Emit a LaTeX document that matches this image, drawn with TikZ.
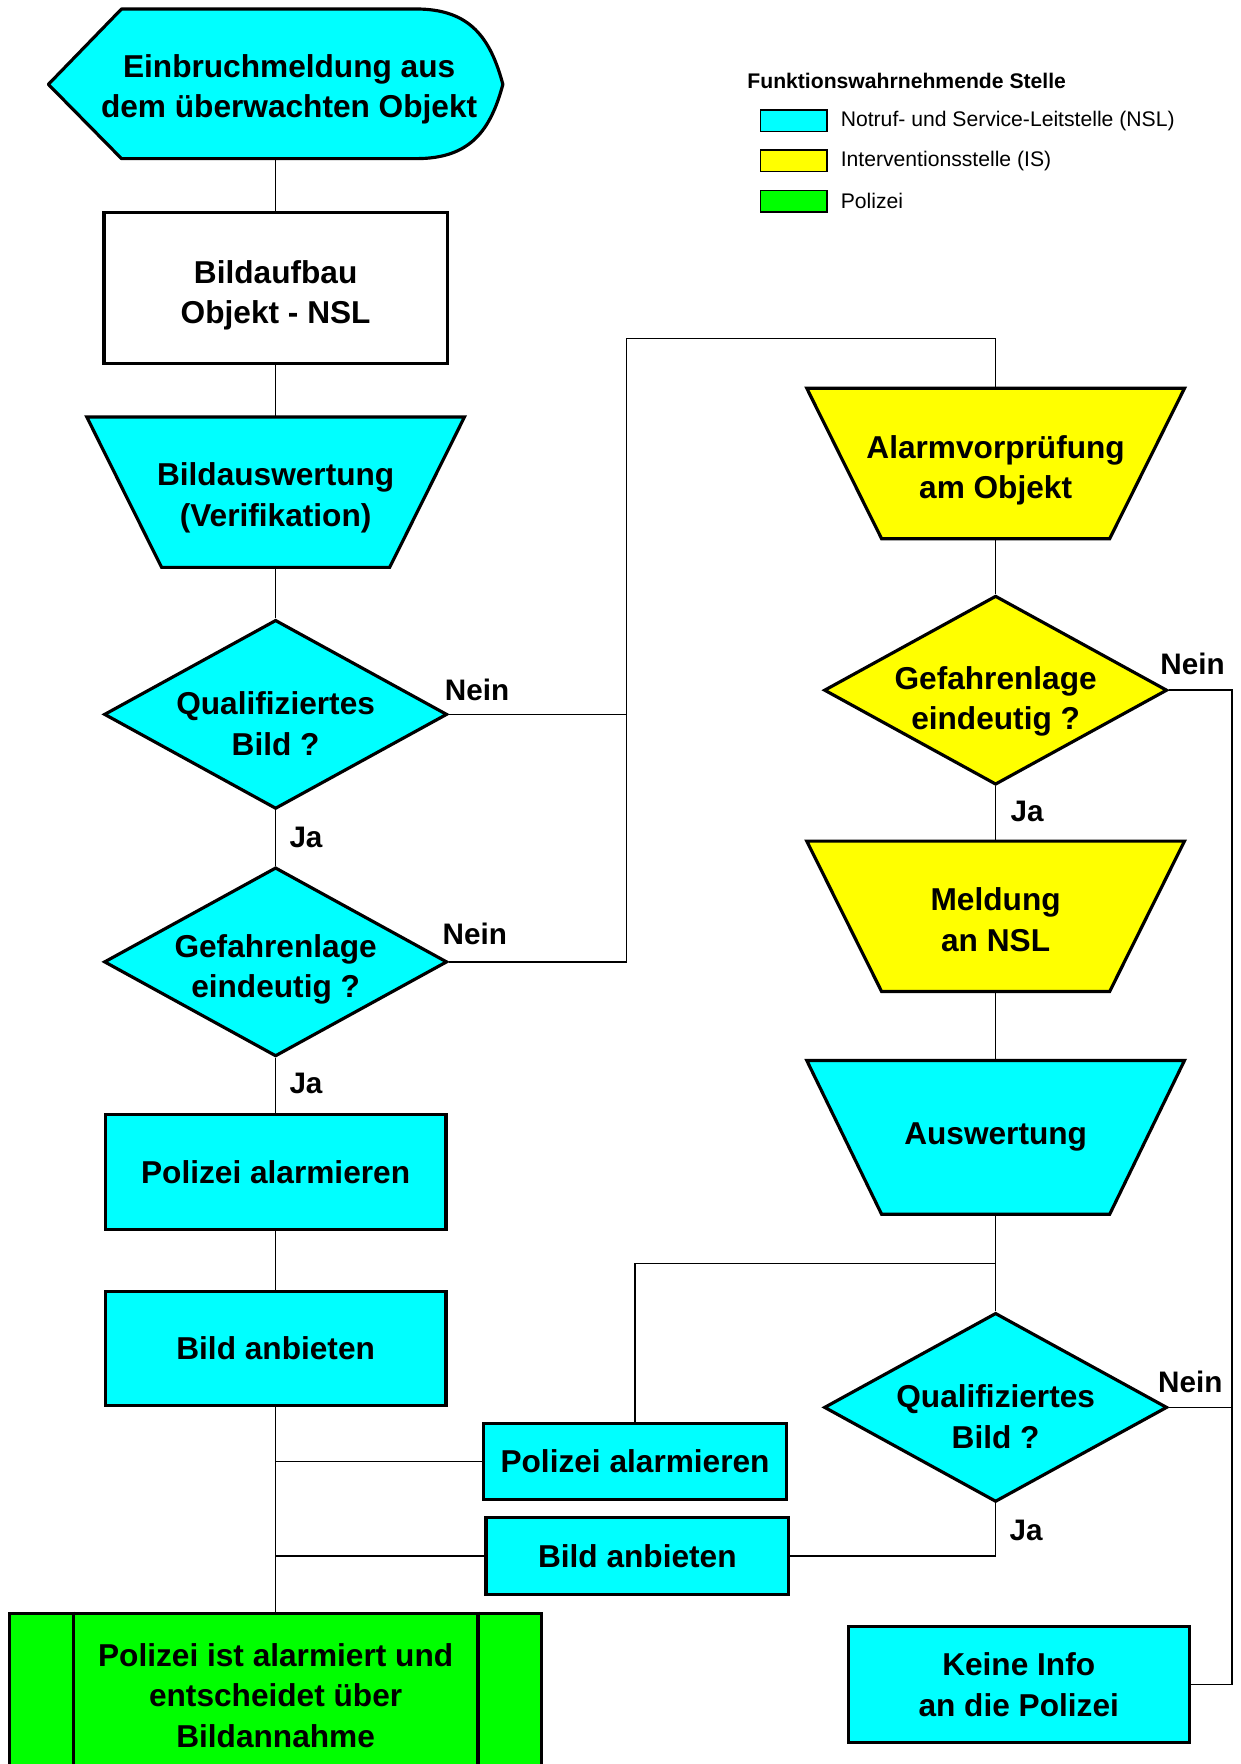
\documentclass[tikz,border=0pt]{standalone}
\usepackage{fontspec}
\setmainfont{Liberation Sans}
\usetikzlibrary{shapes.geometric,backgrounds}

\definecolor{nslcyan}{RGB}{0,255,255}
\definecolor{isyellow}{RGB}{255,255,0}
\definecolor{polgreen}{RGB}{0,255,0}

% invisible rule that lowers a text block inside its shape
\newcommand{\txtdrop}[1]{\rule{0pt}{#1}}

\tikzset{
  txt/.style={font=\fontsize{16}{20.4}\selectfont\bfseries, align=center},
  shapeline/.style={line width=1.6pt},
  box/.style={txt, draw, shapeline, rectangle, inner sep=0pt},
  trapspace/.style={txt, rectangle, inner sep=0pt, minimum width=67mm, minimum height=26.6mm},
  decision/.style={txt, draw, shapeline, diamond, aspect=1.8, inner xsep=-4pt, inner ysep=-8pt,
    minimum width=61mm, minimum height=33.6mm},
  lbl/.style={font=\fontsize{15}{18}\selectfont\bfseries, inner sep=0pt},
  legtext/.style={font=\fontsize{10.7}{13}\selectfont, anchor=west, inner sep=0pt},
  swatch/.style={draw, line width=0.8pt, minimum width=11.8mm, minimum height=3.8mm, inner sep=0pt},
  conn/.style={line width=0.8pt},
}

\begin{document}
\begin{tikzpicture}[x=0.2mm, y=-0.2mm]
    \clip (0,0) rectangle (1103,1568);

    % legend
    \node [legtext, font=\fontsize{10.7}{13}\selectfont\bfseries] (legtitle) at (664,72) {Funktionswahrnehmende Stelle};
    \node [swatch, fill=nslcyan] (sw1) at (705.5,107.5) {};
    \node [swatch, fill=isyellow] (sw2) at (705.5,143) {};
    \node [swatch, fill=polgreen] (sw3) at (705.5,179) {};
    \node [legtext] (leg1) at (747,108) {Notruf- und Service-Leitstelle (NSL)};
    \node [legtext] (leg2) at (747,143) {Interventionsstelle (IS)};
    \node [legtext] (leg3) at (747,179) {Polizei};

    % left column
    \draw [shapeline, fill=nslcyan, line join=round] (108,8) -- (370,8)
        .. controls (418,8) and (436,34) .. (447,75)
        .. controls (436,116) and (418,141) .. (370,141) -- (108,141) -- (43,75) -- cycle;
    \node [txt, minimum height=26.6mm, inner sep=0pt] (start) at (257,74.5) {\txtdrop{17.4pt}Einbruchmeldung aus\\dem überwachten Objekt};

    \node [box, fill=white, minimum width=61mm, minimum height=26.8mm] (bild) at (245,256) {\txtdrop{19pt}Bildaufbau\\Objekt - NSL};
    \node [trapspace] (verif) at (245,437.5) {\txtdrop{17.4pt}Bildauswertung\\(Verifikation)};
    \node [decision, fill=nslcyan] (q1) at (245,635) {\txtdrop{21pt}Qualifiziertes\\Bild ?};
    \node [decision, fill=nslcyan] (g1) at (245,855) {\txtdrop{19.5pt}Gefahrenlage\\eindeutig ?};
    \node [box, fill=nslcyan, minimum width=60.6mm, minimum height=20.4mm] (alarm1) at (245,1042) {Polizei alarmieren};
    \node [box, fill=nslcyan, minimum width=60.6mm, minimum height=20.2mm] (anbiet1) at (245,1198.5) {Bild anbieten};
    \node [box, fill=polgreen, minimum width=94.6mm, minimum height=29.2mm] (entscheid) at (245,1507) {Polizei ist alarmiert und\\entscheidet über\\Bildannahme};
    \draw [shapeline] ([xshift=11.6mm]entscheid.north west) -- ([xshift=11.6mm]entscheid.south west);
    \draw [shapeline] ([xshift=-11.6mm]entscheid.north east) -- ([xshift=-11.6mm]entscheid.south east);

    % middle
    \node [box, fill=nslcyan, minimum width=53.8mm, minimum height=13.6mm] (alarm2) at (564.5,1299) {Polizei alarmieren};
    \node [box, fill=nslcyan, minimum width=53.8mm, minimum height=13.6mm] (anbiet2) at (566.5,1383) {Bild anbieten};

    % right column
    \node [trapspace] (vorpr) at (885,412) {\txtdrop{18.5pt}Alarmvorprüfung\\am Objekt};
    \node [decision, fill=isyellow] (g2) at (885,613.5) {\txtdrop{23pt}Gefahrenlage\\eindeutig ?};
    \node [trapspace] (meld) at (885,814.5) {\txtdrop{15pt}Meldung\\an NSL};
    \node [trapspace, minimum height=27.2mm] (ausw) at (885,1011) {Auswertung};
    \node [decision, fill=nslcyan] (q2) at (885,1251) {\txtdrop{21pt}Qualifiziertes\\Bild ?};
    \node [box, fill=nslcyan, minimum width=60.6mm, minimum height=20.6mm] (keine) at (905.5,1497.5) {Keine Info\\an die Polizei};

    % trapezoids behind their texts
    \begin{scope}[on background layer]
    \foreach \n/\c in {verif/nslcyan, vorpr/isyellow, meld/isyellow, ausw/nslcyan}
        \draw [shapeline, fill=\c] (\n.north west) -- (\n.north east)
            -- ([xshift=-13.3mm]\n.south east) -- ([xshift=13.3mm]\n.south west) -- cycle;
    \end{scope}

    \coordinate (top) at (557,301);
    \coordinate (rail) at (1095,614);
    \coordinate (fork) at (885,1123);

    % connectors
    \draw [conn] (start.south -| bild.north) -- (bild.north);
    \draw [conn] (bild) -- (verif);
    \draw [conn] (verif) -- (q1);
    \draw [conn] (q1) -- (g1);
    \draw [conn] (g1) -- (alarm1);
    \draw [conn] (alarm1) -- (anbiet1);
    \draw [conn] (anbiet1) -- (entscheid);
    \draw [conn] (alarm2.west) -- (alarm2.west -| anbiet1.south);
    \draw [conn] (anbiet2.west) -- (anbiet2.west -| anbiet1.south);

    \draw [conn] (q1.east) -- (q1.east -| top);
    \draw [conn] (g1.east) -| (top) -| (vorpr.north);

    \draw [conn] (vorpr) -- (g2);
    \draw [conn] (g2) -- (meld);
    \draw [conn] (meld) -- (ausw);
    \draw [conn] (ausw) -- (q2);
    \draw [conn] (g2.east) -- (g2.east -| rail) |- (keine.east);
    \draw [conn] (q2.east) -- (q2.east -| rail);
    \draw [conn] (q2.south) |- (anbiet2.east);
    \draw [conn] (alarm2.north) |- (fork);

    % labels
    \node [lbl] (nein1) at (424,613) {Nein};
    \node [lbl] (ja1) at (272,744) {Ja};
    \node [lbl] (nein2) at (422,830) {Nein};
    \node [lbl] (ja2) at (272,963) {Ja};
    \node [lbl] (nein3) at (1060,590) {Nein};
    \node [lbl] (ja3) at (913,721) {Ja};
    \node [lbl] (nein4) at (1058,1228) {Nein};
    \node [lbl] (ja4) at (912,1360) {Ja};

\end{tikzpicture}
\end{document}
